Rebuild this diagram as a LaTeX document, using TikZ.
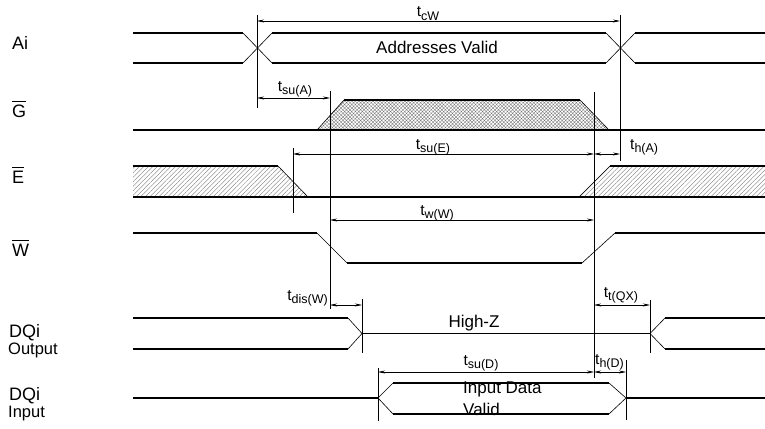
\documentclass[tikz,border=0pt]{standalone}
\usepackage{fontspec}
\setmainfont{Liberation Sans}
\usetikzlibrary{arrows.meta,patterns.meta}
\newcommand\tsub[1]{t\raisebox{-3.5pt}{\fontsize{12.5}{14}\selectfont #1}}
\newcommand\ovl[1]{\vbox{\hrule height 1.1pt\kern 2.6pt\hbox{#1}}}
\begin{document}
\begin{tikzpicture}[x=1pt,y=-1pt,
  sig/.style={line width=1.7pt},
  edge/.style={line width=0.6pt},
  refl/.style={line width=0.7pt},
  dimarrow/.style={line width=0.6pt,{Stealth[length=7pt,width=3pt]}-{Stealth[length=7pt,width=3pt]}},
  rowlbl/.style={inner sep=0pt,anchor=base west,font=\fontsize{18}{20}\selectfont},
  sublbl/.style={inner sep=0pt,anchor=base west,font=\fontsize{16.5}{18}\selectfont},
  txt/.style={inner sep=0pt,font=\fontsize{17}{19}\selectfont},
  tlbl/.style={inner sep=0pt,font=\fontsize{15.5}{17}\selectfont},
  hatchE/.style={pattern={Lines[angle=45,distance=3.2pt,line width=0.35pt]},pattern color=black!55},
  hatchG/.style={pattern={Hatch[angle=45,distance=2.5pt,line width=0.35pt]},pattern color=black!55}
]
\useasboundingbox (0,0) rectangle (765,428);

% ---------- row labels ----------
\node[rowlbl] (lA) at (12,49) {Ai};
\node[rowlbl] (lG) at (12,117) {\ovl{G}};
\node[rowlbl] (lE) at (12,183) {\ovl{E}};
\node[rowlbl] (lW) at (12,256) {\ovl{W}};
\node[rowlbl] (lDQo) at (9,337) {DQi};
\node[sublbl] (lOut) at (8,354) {Output};
\node[rowlbl] (lDQi) at (9,400) {DQi};
\node[sublbl] (lIn) at (8,417) {Input};

% ---------- Ai ----------
\draw[sig] (133,33) -- (243,33);
\draw[sig] (133,63) -- (243,63);
\draw[edge] (243,33) -- (272,63);
\draw[edge] (243,63) -- (272,33);
\draw[sig] (272,33) -- (606,33);
\draw[sig] (272,63) -- (606,63);
\draw[edge] (606,33) -- (635,63);
\draw[edge] (606,63) -- (635,33);
\draw[sig] (635,33) -- (765,33);
\draw[sig] (635,63) -- (765,63);
\node[txt] (av) at (437,47) {Addresses Valid};

% ---------- G ----------
\fill[hatchG] (317,130) -- (344,100) -- (580,100) -- (609,130) -- cycle;
\draw[sig] (133,130) -- (765,130);
\draw[edge] (317,130) -- (344,100);
\draw[sig] (344,100) -- (580,100);
\draw[edge] (580,100) -- (609,130);

% ---------- E ----------
\fill[hatchE] (133,166) -- (278,166) -- (308,197) -- (133,197) -- cycle;
\fill[hatchE] (579,197) -- (610,166) -- (765,166) -- (765,197) -- cycle;
\draw[sig] (133,166) -- (278,166);
\draw[edge] (278,166) -- (308,197);
\draw[sig] (133,197) -- (765,197);
\draw[edge] (579,197) -- (610,166);
\draw[sig] (610,166) -- (765,166);

% ---------- W ----------
\draw[sig] (133,233) -- (317,233);
\draw[edge] (317,233) -- (347,263);
\draw[sig] (347,263) -- (582,263);
\draw[edge] (582,263) -- (615,233);
\draw[sig] (615,233) -- (765,233);

% ---------- DQi output ----------
\draw[sig] (133,318) -- (348,318);
\draw[sig] (133,349) -- (348,349);
\draw[edge] (348,318) -- (362,333.5) -- (348,349);
\draw[sig] (362,333.5) -- (650,333.5);
\draw[edge] (665,318) -- (650,333.5) -- (665,349);
\draw[sig] (665,318) -- (765,318);
\draw[sig] (665,349) -- (765,349);
\node[txt,anchor=base] (hz) at (474,327) {High-Z};

% ---------- DQi input ----------
\draw[sig] (133,398) -- (378,398);
\draw[edge] (393,383) -- (378,398) -- (393,414);
\draw[sig] (393,383) -- (609,383);
\draw[sig] (393,414) -- (609,414);
\draw[edge] (609,383) -- (626,398) -- (609,414);
\draw[sig] (626,398) -- (765,398);
\node[txt,anchor=base west] (idv1) at (463,393) {Input Data};
\node[txt,anchor=base west] (idv2) at (463,415) {Valid};

% ---------- reference verticals ----------
\coordinate (a1) at (257,15);  \coordinate (a2) at (257,108);
\coordinate (b1) at (620,15);  \coordinate (b2) at (620,161);
\coordinate (c1) at (330,91);  \coordinate (c2) at (330,309);
\coordinate (d1) at (594,92);  \coordinate (d2) at (594,378);
\coordinate (e1) at (293,148); \coordinate (e2) at (293,213);
\coordinate (f1) at (362,299); \coordinate (f2) at (362,353);
\coordinate (g1) at (650,300); \coordinate (g2) at (650,353);
\coordinate (h1) at (378,368); \coordinate (h2) at (378,421);
\coordinate (k1) at (626,360); \coordinate (k2) at (626,420);
\foreach \p in {a,b,c,d,e,f,g,h,k} \draw[refl] (\p1) -- (\p2);

% ---------- dimension arrows ----------
\draw[dimarrow] (257,21) -- (620,21);
\node[tlbl,anchor=base] (tcw) at (428,17) {\tsub{cW}};

\draw[dimarrow] (257,98) -- (330,98);
\node[tlbl,anchor=base] (tsua) at (295,91) {\tsub{su(A)}};

\draw[dimarrow] (293,154) -- (594,154);
\node[tlbl,anchor=base] (tsue) at (433,149) {\tsub{su(E)}};
\draw[dimarrow] (594,154) -- (620,154);
\node[tlbl,anchor=base west] (tha) at (630,149) {\tsub{h(A)}};

\draw[dimarrow] (330,220) -- (594,220);
\node[tlbl,anchor=base] (tww) at (437,215) {\tsub{w(W)}};

\draw[dimarrow] (330,305) -- (362,305);
\node[tlbl,anchor=base east] (tdis) at (328,300) {\tsub{dis(W)}};
\draw[dimarrow] (594,305) -- (650,305);
\node[tlbl,anchor=base] (ttqx) at (621,297) {\tsub{t(QX)}};

\draw[dimarrow] (378,372) -- (594,372);
\node[tlbl,anchor=base] (tsud) at (481,365) {\tsub{su(D)}};
\draw[dimarrow] (594,372) -- (626,372);
\node[tlbl,anchor=base west] (thd) at (595,364) {\tsub{h(D)}};
\end{tikzpicture}
\end{document}
